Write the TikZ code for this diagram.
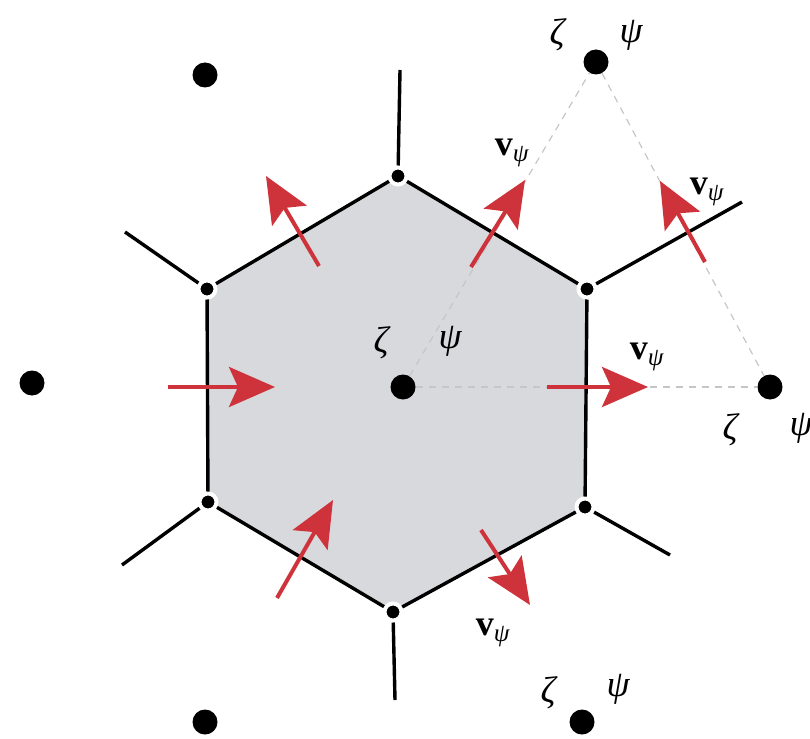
\documentclass[tikz,border=0pt]{standalone}
\usepackage{fontspec}
\setmainfont{Liberation Serif}
\usetikzlibrary{arrows.meta}
\definecolor{hexfill}{RGB}{216,217,220}
\definecolor{vred}{RGB}{206,50,58}
\definecolor{dashgray}{RGB}{198,198,198}
\begin{document}
\begin{tikzpicture}[x=1pt,y=-1pt,
  site/.style={circle,fill=black,inner sep=0pt,minimum size=25pt},
  vtx/.style={circle,fill=black,draw=white,line width=4pt,inner sep=0pt,minimum size=17pt},
  edge/.style={line width=3.4pt,black},
  link/.style={dashgray,line width=1.2pt,dash pattern=on 7pt off 6pt},
  vel/.style={vred,line width=4pt,-{Stealth[length=46pt,width=40pt,inset=9pt]}},
  lbl/.style={font=\fontsize{37}{37}\selectfont\itshape,inner sep=0pt},
  vlbl/.style={font=\fontsize{36}{36}\selectfont,inner sep=0pt}]
\useasboundingbox (0,0) rectangle (810,738);
% hexagon vertices
\coordinate (h1) at (398,176);
\coordinate (h2) at (587,289);
\coordinate (h3) at (585,507);
\coordinate (h4) at (393,612);
\coordinate (h5) at (208,502);
\coordinate (h6) at (207,289);
\fill[hexfill] (h1) -- (h2) -- (h3) -- (h4) -- (h5) -- (h6) -- cycle;
% lattice sites
\node[site] (c) at (403,387) {};
\node[site] (s1) at (596,62) {};
\node[site] (s2) at (770,387) {};
\node[site] (s3) at (205,75) {};
\node[site] (s4) at (32,383) {};
\node[site] (s5) at (205,722) {};
\node[site] (s6) at (582,722) {};
% dashed links
\draw[link] (c) -- (s1);
\draw[link] (c) -- (s2);
\draw[link] (s1) -- (s2);
% vertex nodes
\node[vtx] (v1) at (h1) {};
\node[vtx] (v2) at (h2) {};
\node[vtx] (v3) at (h3) {};
\node[vtx] (v4) at (h4) {};
\node[vtx] (v5) at (h5) {};
\node[vtx] (v6) at (h6) {};
% outer ends
\coordinate (e1) at (400,70);
\coordinate (e2) at (742,202);
\coordinate (e3) at (670,555);
\coordinate (e4) at (395,700);
\coordinate (e5) at (122,565);
\coordinate (e6) at (125,232);
\draw[edge] (v1) -- (v2);
\draw[edge] (v2) -- (v3);
\draw[edge] (v3) -- (v4);
\draw[edge] (v4) -- (v5);
\draw[edge] (v5) -- (v6);
\draw[edge] (v6) -- (v1);
\draw[edge] (v1) -- (e1);
\draw[edge] (v2) -- (e2);
\draw[edge] (v3) -- (e3);
\draw[edge] (v4) -- (e4);
\draw[edge] (v5) -- (e5);
\draw[edge] (v6) -- (e6);
% velocity arrows
\coordinate (a1t) at (319,266); \coordinate (a1h) at (266,176);
\coordinate (a2t) at (168,387); \coordinate (a2h) at (275,387);
\coordinate (a3t) at (471,267); \coordinate (a3h) at (525,180);
\coordinate (a4t) at (705,262); \coordinate (a4h) at (660,181);
\coordinate (a5t) at (547,387); \coordinate (a5h) at (648,387);
\coordinate (a6t) at (277,598); \coordinate (a6h) at (333,500);
\coordinate (a7t) at (481,530); \coordinate (a7h) at (530,605);
\draw[vel] (a1t) -- (a1h);
\draw[vel] (a2t) -- (a2h);
\draw[vel] (a3t) -- (a3h);
\draw[vel] (a4t) -- (a4h);
\draw[vel] (a5t) -- (a5h);
\draw[vel] (a6t) -- (a6h);
\draw[vel] (a7t) -- (a7h);
% labels
\node[lbl] (z1) at (557,35) {ζ};
\node[lbl] (p1) at (631,35) {ψ};
\node[lbl] (z0) at (381,343) {ζ};
\node[lbl] (p0) at (450,341) {ψ};
\node[lbl] (z2) at (730,430) {ζ};
\node[lbl] (p2) at (801,428) {ψ};
\node[lbl] (z3) at (548,693) {ζ};
\node[lbl] (p3) at (618,689) {ψ};
\node[vlbl] (l1) at (512,153) {\textbf{v}\textsubscript{\textit{ψ}}};
\node[vlbl] (l2) at (707,192) {\textbf{v}\textsubscript{\textit{ψ}}};
\node[vlbl] (l3) at (647,357) {\textbf{v}\textsubscript{\textit{ψ}}};
\node[vlbl] (l4) at (493,633) {\textbf{v}\textsubscript{\textit{ψ}}};
\end{tikzpicture}
\end{document}
